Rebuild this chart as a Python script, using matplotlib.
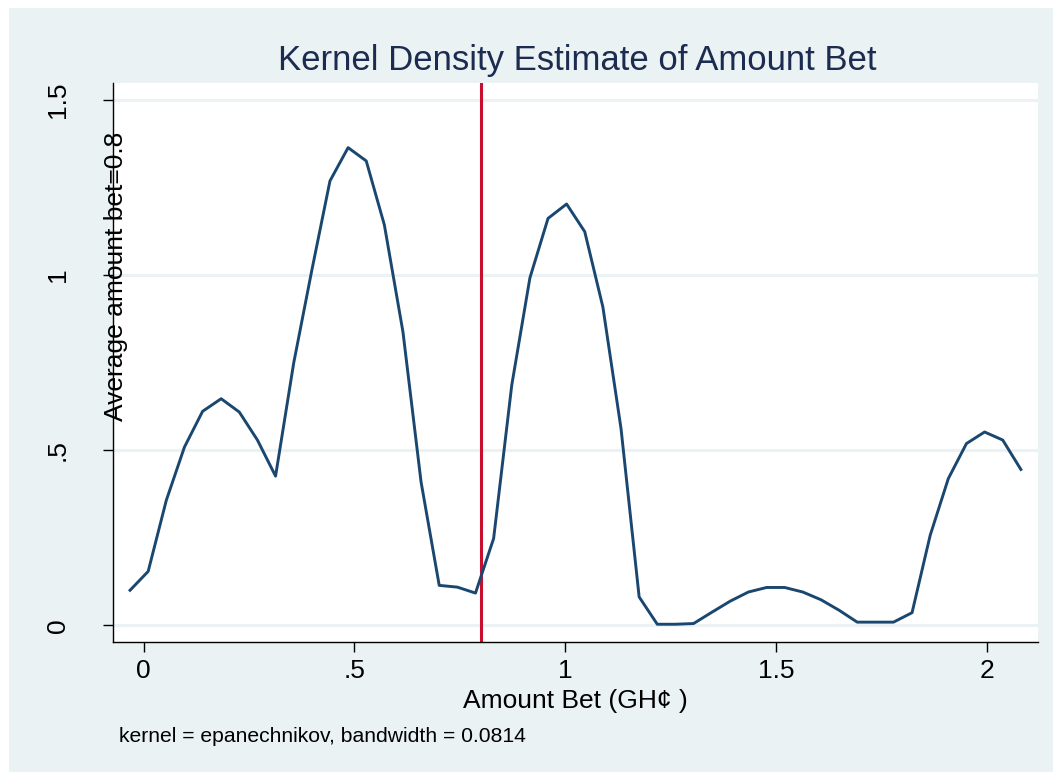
import numpy as np
import matplotlib
matplotlib.use('Agg')
import matplotlib.pyplot as plt
from matplotlib.patches import Rectangle

# kdensity grid points and estimated density
amount_bet = [-0.032, 0.011, 0.054, 0.097, 0.140, 0.184, 0.227, 0.270, 0.313, 0.356,
              0.399, 0.442, 0.485, 0.528, 0.571, 0.615, 0.658, 0.701, 0.744, 0.787,
              0.830, 0.873, 0.916, 0.959, 1.003, 1.046, 1.089, 1.132, 1.175, 1.218,
              1.261, 1.304, 1.347, 1.391, 1.434, 1.477, 1.520, 1.563, 1.606, 1.649,
              1.692, 1.735, 1.778, 1.822, 1.865, 1.908, 1.951, 1.994, 2.037, 2.080]
density = [0.100, 0.154, 0.357, 0.509, 0.611, 0.647, 0.609, 0.529, 0.426, 0.749,
           1.014, 1.269, 1.364, 1.326, 1.143, 0.838, 0.409, 0.114, 0.109, 0.092,
           0.248, 0.686, 0.992, 1.162, 1.203, 1.124, 0.909, 0.562, 0.081, 0.003,
           0.003, 0.005, 0.037, 0.069, 0.095, 0.108, 0.108, 0.095, 0.073, 0.043,
           0.009, 0.009, 0.009, 0.036, 0.257, 0.419, 0.519, 0.552, 0.529, 0.445]
avg_bet = 0.8

x_ticks = [0, 0.5, 1, 1.5, 2]
x_ticklabels = ['0', '.5', '1', '1.5', '2']
y_ticks = [0, 0.5, 1, 1.5]
y_ticklabels = ['0', '.5', '1', '1.5']

plt.rcParams['font.family'] = ['Liberation Sans', 'DejaVu Sans']

W, H = 1053, 772
fig = plt.figure(figsize=(W / 100, H / 100), dpi=100)
fig.patch.set_facecolor('white')
# stata style light panel behind the plot
fig.patches.append(Rectangle((9 / W, 0), 1 - 9 / W, 1 - 8 / H, transform=fig.transFigure,
                             facecolor='#EAF2F3', edgecolor='none', zorder=-5))

left, right, top, bottom = 113, 1038, 83, 642
ax = fig.add_axes([left / W, 1 - bottom / H, (right - left) / W, (bottom - top) / H])
ax.set_facecolor('white')

ax.axvline(avg_bet, color='#C8102E', lw=2.2, zorder=2)
ax.plot(amount_bet, density, color='#1A476F', lw=2.1, zorder=3)

ax.set_xlim(-0.0724, 2.1206)
ax.set_ylim(-0.0477, 1.5486)
ax.set_xticks(x_ticks)
ax.set_xticklabels(x_ticklabels)
ax.set_yticks(y_ticks)
ax.set_yticklabels(y_ticklabels, rotation=90, va='center')
ax.tick_params(axis='both', labelsize=19, length=7, width=1, colors='black')
ax.tick_params(axis='y', pad=24)
ax.tick_params(axis='x', pad=5)
ax.grid(axis='y', color='#EAF2F3', lw=2.2, zorder=1)
ax.set_axisbelow(True)
for s in ['top', 'right']:
    ax.spines[s].set_visible(False)
for s in ['left', 'bottom']:
    ax.spines[s].set_linewidth(1)
    ax.spines[s].set_color('black')

fig.text(577 / W, 1 - 70 / H, 'Kernel Density Estimate of Amount Bet', ha='center',
         va='baseline', fontsize=25, color='#1C2B50')
fig.text(575 / W, 1 - 708 / H, 'Amount Bet (GH¢ )', ha='center', va='baseline', fontsize=19)
fig.text(116 / W, 1 - 276 / H, 'Average amount bet=0.8', rotation=90, ha='center',
         va='center', fontsize=19)
fig.text(119 / W, 1 - 741.5 / H, 'kernel = epanechnikov, bandwidth = 0.0814', ha='left',
         va='baseline', fontsize=15.2)

fig.savefig('out.png', dpi=100)
